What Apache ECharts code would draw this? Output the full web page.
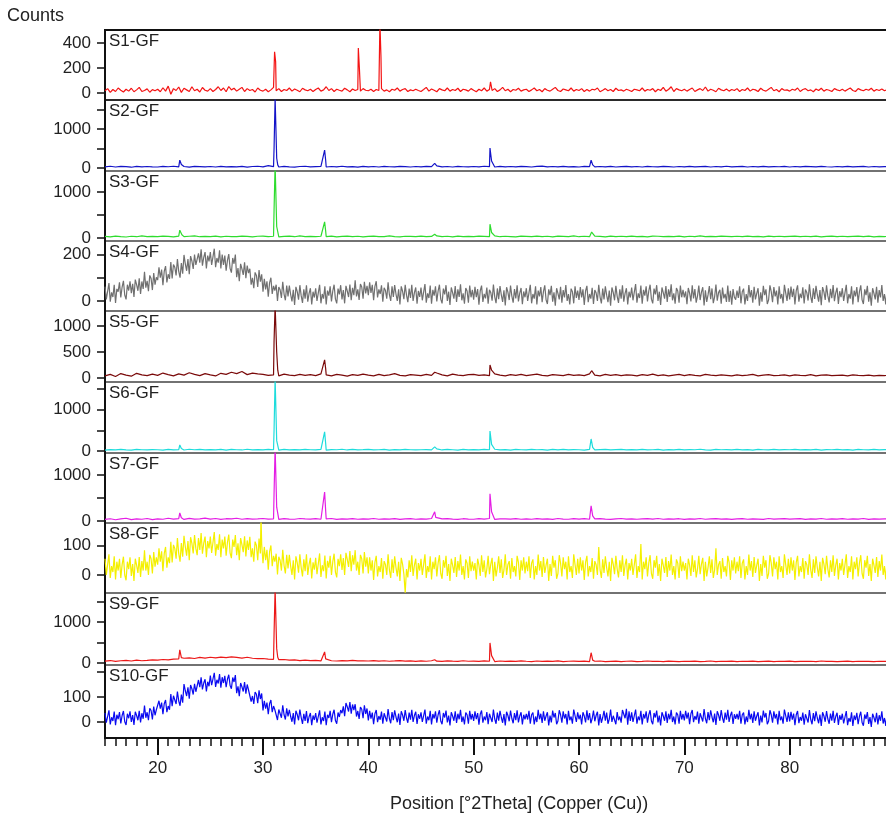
<!DOCTYPE html>
<html>
<head>
<meta charset="utf-8">
<script src="https://cdn.jsdelivr.net/npm/echarts@6/dist/echarts.min.js"></script>
<style>
  html, body { margin: 0; padding: 0; background: #fff; }
  #xrd { width: 886px; height: 821px; }
</style>
</head>
<body>
<div id="xrd"></div>
<script>
// sample labels, top to bottom
const sampleNames = ['S1-GF', 'S2-GF', 'S3-GF', 'S4-GF', 'S5-GF', 'S6-GF', 'S7-GF', 'S8-GF', 'S9-GF', 'S10-GF'];

// 2theta of first point, and scan steps (deg)
const startTheta = 15;
const denseStep = 0.125;
const fineStep = 0.25;
const coarseStep = 0.5;

// counts
const s1Counts = [
  18,35,5,28,12,40,22,8,30,15,38,10,25,45,12,20,33,6,27,18,
  30,10,42,15,55,-10,35,20,48,5,38,25,12,50,18,30,8,44,22,15,
  35,12,28,50,20,40,10,52,25,38,15,30,45,12,35,20,28,8,40,22,
  15,30,10,25,45,18,35,12,28,20,40,15,32,22,10,38,25,18,30,12,
  28,40,15,25,50,20,35,12,30,22,15,38,25,10,32,20,28,15,35,22,
  18,30,12,28,20,35,15,25,10,30,22,40,15,28,35,12,25,18,30,20,
  12,28,45,15,32,22,10,35,25,18,40,15,28,20,38,12,30,25,15,35,
  22,10,30,18,40,15,28,20,35,12,25,45,18,30,10,28,22,38,15,25,
  30,12,25,40,18,28,10,35,22,15,30,45,20,12,32,25,18,40,15,28,
  20,35,12,28,15,30,25,40,10,22,35,18,28,12,38,20,25,15,30,22,
  12,30,25,18,40,15,28,22,35,10,30,20,45,15,28,50,12,35,25,18,
  30,15,28,40,12,25,35,20,48,15,30,22,10,38,25,18,32,15,28,20,
  35,12,28,20,40,15,30,25,12,38,22,15,30,45,18,28,10,35,22,25,
  15,30,22,40,12,28,35,18,25,10,32,20,38,15,28,22,12,35,25,18,
  30,15,28,40,20,12,35,25,18,30,22,38,15,28,20,32,18,25
];
const s1Peaks = [[31.1, 330], [31.2, 250], [39.05, 360], [39.15, 200], [41.1, 560], [41.2, 290], [51.6, 90]];

const s2Counts = [
  30,45,25,40,35,20,42,28,38,30,
  25,40,32,45,28,38,22,40,35,30,
  38,25,42,30,35,28,40,22,38,45,
  30,60,35,25,40,30,22,38,45,28,
  35,42,25,38,30,45,28,35,22,40,
  30,38,25,42,32,28,40,35,25,38,
  30,42,35,55,28,38,25,40,32,30,
  38,28,45,35,25,40,30,38,28,42,
  35,25,40,50,30,38,28,42,30,35,
  25,40,35,28,38,30,42,25,35,40,
  30,38,25,42,32,28,40,35,25,38,
  30,42,28,35,40,25,38,30,45,28,
  35,40,25,38,30,42,28,35,32,40,
  25,38,30,42,35,28,40,32,25,38,
  30,42,28,35,40,25,38,30,35,28
];
const s2Peaks = [[22.1, 200], [22.25, 90], [31.05, 500], [31.15, 1800], [31.3, 250], [31.4, 80],
  [35.85, 460], [35.95, 200], [46.3, 120], [51.55, 510], [51.7, 180], [56.6, 70], [61.15, 200], [61.3, 80]];

const s3Counts = [
  35,25,40,30,22,38,28,45,30,35,
  28,40,35,25,42,30,38,45,28,35,
  30,42,25,38,32,28,40,35,25,38,
  42,30,38,25,35,40,28,45,30,35,
  28,38,30,42,25,35,40,30,38,25,
  35,40,28,32,45,30,25,38,35,30,
  40,28,35,45,30,38,25,42,30,35,
  28,40,35,30,45,28,38,32,25,40,
  35,30,42,28,38,25,40,35,30,45,
  28,38,30,42,35,25,40,30,38,28,
  40,30,35,25,42,38,28,35,30,40,
  25,38,32,45,30,35,28,40,35,30,
  38,28,42,30,35,25,40,32,38,28,
  35,42,28,38,30,40,25,35,42,30,
  38,28,35,40,30,42,25,35,30,38
];
const s3Peaks = [[22.1, 170], [22.3, 70], [31.05, 600], [31.15, 1600], [31.3, 250], [35.85, 350], [35.95, 150],
  [46.3, 80], [51.55, 300], [51.7, 120], [61.2, 130]];

const s4Counts = [
  62,7,42,77,-3,37,17,70,-8,52, 40,80,15,60,87,25,7,70,45,85, 34,74,17,92,70,44,98,30,84,52, 126,57,87,42,110,97,47,120,70,102,
  90,145,100,135,68,128,150,80,115,95, 167,97,157,145,110,180,127,100,163,117, 198,160,130,180,115,193,172,138,200,155, 147,205,165,222,152,188,210,140,195,170,
  210,155,190,225,145,185,165,218,140,200, 155,195,130,175,202,140,122,185,160,200, 102,142,85,160,138,112,166,98,152,120, 139,70,100,55,123,110,60,133,83,115,
  40,95,50,85,18,78,100,30,65,45, 70,0,60,48,13,83,30,3,66,20, 66,28,-2,48,-17,61,40,6,68,23, -8,50,10,67,-3,33,55,-15,40,15,
  55,0,35,70,-10,30,10,63,-15,45, 23,63,-2,43,70,8,-10,53,28,68, 7,47,-10,65,43,17,71,3,57,25, 89,20,50,5,73,60,10,83,33,65,
  25,80,35,70,3,63,85,15,50,30, 67,-3,57,45,10,80,27,0,63,17, 68,30,0,50,-15,63,42,8,70,25, -5,53,13,70,0,36,58,-12,43,18,
  58,3,38,73,-7,33,13,66,-12,48, 23,63,-2,43,70,8,-10,53,28,68, 0,40,-17,58,36,10,64,-4,50,18, 72,3,33,-12,56,43,-7,66,16,48,
  6,61,16,51,-16,44,66,-4,31,11, 58,-12,48,36,1,71,18,-9,54,8, 64,26,-4,46,-19,59,38,4,66,21, -7,51,11,68,-2,34,56,-14,41,16,
  55,0,35,70,-10,30,10,63,-15,45, 20,60,-5,40,67,5,-13,50,25,65, -3,37,-20,55,33,7,61,-7,47,15, 69,0,30,-15,53,40,-10,63,13,45,
  5,60,15,50,-17,43,65,-5,30,10, 57,-13,47,35,0,70,17,-10,53,7, 63,25,-5,45,-20,58,37,3,65,20, -8,50,10,67,-3,33,55,-15,40,15,
  58,3,38,73,-7,33,13,66,-12,48, 23,63,-2,43,70,8,-10,53,28,68, 0,40,-17,58,36,10,64,-4,50,18, 72,3,33,-12,56,43,-7,66,16,48,
  16,41,-14,56,34,-2,68,11,51,-7, 21,66,4,38,59,-19,46,-4,26,64, 8,54,-9,18,71,1,36,48,-12,58, 11,31,-4,66,-4,44,-16,51,16,6,
  45,13,63,-10,40,53,-15,30,0,69, 15,47,-7,61,7,33,55,-20,37,-3, 65,25,50,-13,5,67,40,-5,60,20, 45,-15,63,10,30,-10,70,35,0,55,
  7,62,17,52,-15,45,67,-3,32,12, 59,-11,49,37,2,72,19,-8,55,9, 65,27,-3,47,-18,60,39,5,67,22, -6,52,12,69,-1,35,57,-13,42,17,
  55,0,35,70,-10,30,10,63,-15,45, 20,60,-5,40,67,5,-13,50,25,65, -3,37,-20,55,33,7,61,-7,47,15, 69,0,30,-15,53
];

const s5Counts = [
  40,70,30,85,55,35,90,60,45,75,
  50,95,65,40,80,55,100,70,45,85,
  60,40,90,70,110,85,125,65,95,80,
  70,50,60,40,75,55,45,70,50,65,
  45,80,60,40,70,55,35,65,50,75,
  55,40,70,45,60,85,50,40,65,55,
  45,70,50,95,60,40,75,55,45,65,
  70,50,60,45,80,55,40,65,50,70,
  45,60,75,50,40,65,55,45,70,50,
  60,45,80,55,40,70,50,65,45,60,
  55,40,65,50,75,45,60,40,55,70,
  45,65,50,40,70,55,45,60,50,40,
  60,45,55,70,40,55,65,45,50,60,
  40,60,50,45,65,40,55,60,45,50,
  55,40,60,50,45,55,40,50,45,55
];
const s5Peaks = [[31.05, 700], [31.15, 1400], [31.3, 500], [31.4, 150], [35.85, 350], [35.95, 180],
  [46.3, 110], [51.55, 250], [51.7, 150], [61.2, 140]];

const s6Counts = [
  20,35,25,40,28,22,38,30,25,35,
  30,22,40,28,35,25,42,30,38,25,
  35,28,40,22,38,30,25,42,28,35,
  25,40,30,22,38,28,35,25,40,30,
  28,38,22,35,30,42,25,38,28,32,
  38,25,30,40,22,35,28,38,30,25,
  30,35,28,50,25,38,30,22,40,28,
  35,25,38,30,42,28,35,22,38,30,
  25,40,30,35,22,38,28,40,25,35,
  30,22,38,28,35,40,25,32,38,28,
  35,28,40,25,30,38,22,35,28,40,
  25,35,30,42,28,22,38,30,35,25,
  38,28,35,22,40,30,25,38,28,35,
  30,40,25,35,28,38,22,35,30,40,
  28,35,22,38,30,25,40,28,35,30
];
const s6Peaks = [[22.1, 145], [22.25, 60], [31.05, 500], [31.15, 1750], [31.3, 250], [35.85, 460], [35.95, 180],
  [46.3, 100], [51.55, 480], [51.7, 160], [61.15, 290], [61.3, 90]];

const s7Counts = [
  35,50,28,45,60,32,48,38,55,30,
  45,38,60,42,50,35,58,40,48,62,
  40,55,35,50,45,60,38,52,42,48,
  55,40,48,35,52,42,38,55,45,40,
  50,38,45,55,35,48,42,52,38,45,
  42,55,38,48,40,52,35,45,50,38,
  48,40,55,38,45,52,40,35,50,42,
  38,50,42,55,35,45,48,40,52,38,
  45,38,52,40,48,35,55,42,38,50,
  40,52,38,45,50,42,35,48,55,40,
  48,38,45,52,40,55,38,45,42,50,
  35,48,42,55,38,45,50,40,48,35,
  45,52,38,48,42,35,55,40,45,50,
  40,48,52,35,45,42,55,38,48,42,
  50,38,45,42,55,35,48,40,45,48
];
const s7Peaks = [[22.1, 175], [22.25, 70], [31.05, 600], [31.15, 1600], [31.3, 300], [35.85, 630], [35.95, 220],
  [46.3, 200], [46.4, 80], [51.55, 590], [51.7, 200], [61.15, 330], [61.3, 110]];

const s8Counts = [
  55,0,35,70,-10,30,10,63,-15,45, 15,55,-10,35,62,0,-18,45,20,60, -3,37,-20,55,33,7,61,-7,47,15, 84,15,45,0,68,55,5,78,28,60,
  35,90,45,80,13,73,95,25,60,40, 112,42,102,90,55,125,72,45,108,62, 133,95,65,115,50,128,107,73,135,90, 67,125,85,142,72,108,130,60,115,90,
  130,75,110,145,65,105,85,138,60,120, 90,130,65,110,137,75,57,120,95,135, 67,107,50,125,103,77,131,63,117,85, 129,60,90,45,113,100,50,123,73,105,
  40,95,50,85,18,78,100,30,65,45, 72,2,62,50,15,85,32,5,68,22, 68,30,0,50,-15,63,42,8,70,25, -5,53,13,70,0,36,58,-12,43,18,
  58,3,38,73,-7,33,13,66,-12,48, 25,65,0,45,72,10,-8,55,30,70, 17,57,0,75,53,27,81,13,67,35, 84,15,45,0,68,55,5,78,28,60,
  5,60,15,50,-17,43,65,-5,30,10, 57,-13,47,35,0,70,17,-10,53,7, 63,25,-5,45,-20,58,37,3,-60,20, -8,50,10,67,-3,33,55,-15,40,15,
  55,0,35,70,-10,30,10,63,-15,45, 20,60,-5,40,67,5,-13,50,25,65, -3,37,-20,55,33,7,61,-7,47,15, 69,0,30,-15,53,40,-10,63,13,45,
  15,40,-15,55,33,-3,67,10,50,-8, 20,65,3,37,58,-20,45,-5,25,63, 7,53,-10,17,70,0,35,47,-13,57, 10,30,-5,65,43,-17,50,15,60,5,
  45,13,63,-10,40,53,-15,30,0,69, 15,47,-7,61,7,33,55,-20,37,-3, 65,25,50,-13,5,67,40,-5,60,20, 45,-15,63,10,30,-10,70,35,0,55,
  5,60,15,50,-17,43,65,-5,30,10, 57,-13,47,35,0,95,17,-10,53,7, 63,25,-5,45,-20,58,37,3,65,20, -8,50,10,67,-3,33,55,-15,40,15,
  55,0,35,70,-10,30,10,105,-15,45, 20,60,-5,40,67,5,-13,50,25,65, -3,37,-20,55,33,7,61,-7,47,15, 69,0,30,-15,53,40,-10,63,13,45,
  15,40,-15,55,33,-3,67,10,50,-8, 20,65,3,37,58,-20,45,-5,25,63, 7,53,-10,17,90,0,35,47,-13,57, 10,30,-5,65,43,-17,50,15,60,5,
  45,13,63,-10,40,53,-15,30,0,69, 15,47,-7,61,7,33,55,-20,37,-3, 65,25,50,-13,5,67,40,-5,60,20, 45,-15,63,10,30,-10,70,35,0,55,
  5,60,15,50,-17,43,65,-5,30,10, 57,-13,47,35,0,70,17,-10,53,7, 63,25,-5,45,-20,58,37,3,65,20, -8,50,10,67,-3,33,55,-15,40,15,
  55,0,35,70,-10,30,10,63,-15,45, 20,60,-5,40,67,5,-13,50,25,65, -3,37,-20,55,33,7,61,-7,47,15, 69,0,30,-15,53
];
const s8Peaks = [[29.81, 200]];

const s9Counts = [
  45,60,40,55,65,48,70,55,62,75,
  70,85,78,95,100,115,125,110,135,120,
  140,125,145,130,150,135,120,140,115,105,
  110,95,90,80,85,70,75,60,70,58,
  65,50,62,55,48,60,52,65,50,55,
  48,58,45,55,42,50,60,45,52,40,
  50,42,55,45,38,52,45,40,55,42,
  45,38,50,42,35,48,40,45,38,50,
  42,35,48,40,45,38,50,35,42,45,
  38,45,35,42,48,35,40,45,32,42,
  45,35,40,48,38,42,35,45,40,35,
  42,38,45,35,40,48,32,42,38,45,
  35,42,38,45,32,40,45,35,42,38,
  45,35,40,38,42,35,48,38,40,35,
  40,45,35,42,38,40,35,42,38,42
];
const s9Peaks = [[22.1, 320], [22.25, 130], [31.05, 700], [31.15, 1800], [31.3, 350], [31.4, 140], [35.85, 270], [35.95, 100],
  [46.3, 80], [51.55, 490], [51.7, 180], [61.15, 250], [61.3, 70]];

const s10Counts = [
  36,-3,22,47,-10,19,4,42,-13,29, 11,40,-6,26,44,1,-12,33,15,43, 0,28,-12,41,26,7,45,-2,35,13, 66,17,39,7,55,46,10,62,27,49,
  46,85,53,78,31,73,88,39,64,49, 112,63,105,97,72,122,84,65,110,77, 152,125,104,139,93,148,133,110,153,121, 127,168,139,179,130,156,171,122,161,143,
  186,147,172,197,140,169,154,192,137,179, 156,185,139,171,189,146,133,178,160,188, 115,143,103,156,141,122,160,113,150,128, 131,82,104,72,120,111,75,127,92,114,
  46,85,53,78,31,73,88,39,64,49, 57,8,50,42,17,67,29,10,55,22, 49,22,1,36,-10,45,30,7,50,18, -8,33,4,44,-5,21,36,-13,26,8,
  36,-3,22,47,-10,19,4,42,-13,29, 16,45,-1,31,49,6,-7,38,20,48, 35,63,23,76,61,42,80,33,70,48, 71,22,44,12,60,51,15,67,32,54,
  6,45,13,38,-9,33,48,-1,24,9, 42,-7,35,27,2,52,14,-5,40,7, 47,20,-1,34,-12,43,28,5,48,16, -3,38,9,49,0,26,41,-8,31,13,
  39,0,25,50,-7,22,7,45,-10,32, 14,43,-3,29,47,4,-9,36,18,46, -2,26,-14,39,24,5,43,-4,33,11, 49,0,22,-10,38,29,-7,45,10,32,
  4,43,11,36,-11,31,46,-3,22,7, 40,-9,33,25,0,50,12,-7,38,5, 45,18,-3,32,-14,41,26,3,46,14, -5,36,7,47,-2,24,39,-10,29,11,
  32,10,45,-7,29,38,-10,22,0,49, 11,33,-4,43,5,24,39,-14,26,-2, 46,18,36,-9,4,47,29,-3,43,14, 32,-10,45,7,22,-7,50,25,0,39,
  11,29,-10,39,24,-2,47,7,36,-5, 14,46,3,26,41,-14,32,-3,18,45, 5,38,-7,12,50,0,25,33,-9,40, 7,22,-3,48,45,15,53,-11,43,4,
  39,0,25,50,-7,22,7,45,-10,32, 14,43,-3,29,47,4,-9,36,18,46, -2,26,-14,39,24,5,43,-4,33,11, 49,0,22,-10,38,29,-7,45,10,32,
  6,45,13,38,-9,33,48,-1,24,9, 42,-7,35,27,2,52,14,-5,40,7, 47,20,-1,34,-12,43,28,5,48,16, -3,38,9,49,0,26,41,-8,31,13,
  32,10,45,-7,29,38,-10,22,0,49, 11,33,-4,43,5,24,39,-14,26,-2, 46,18,36,-9,4,47,29,-3,43,14, 32,-10,45,7,22,-7,50,25,0,39,
  2,41,9,34,-13,29,44,-5,20,5, 38,-11,31,23,-2,48,10,-9,36,3, 43,16,-5,30,-16,39,24,1,44,12, -7,34,5,45,-4,22,37,-12,27,9,
  33,-6,19,44,-13,16,1,39,-16,26, 8,37,-9,23,41,-2,-15,30,12,40, -8,20,-20,33,18,-1,37,-10,27,5, 43,-6,16,-16,32
];

const panelCounts = [s1Counts, s2Counts, s3Counts, s4Counts, s5Counts, s6Counts, s7Counts, s8Counts, s9Counts, s10Counts];
const panelSteps = [fineStep, coarseStep, coarseStep, denseStep, coarseStep, coarseStep, coarseStep, denseStep, coarseStep, denseStep];
const panelPeaks = [s1Peaks, s2Peaks, s3Peaks, [], s5Peaks, s6Peaks, s7Peaks, s8Peaks, s9Peaks, []];

// y axis ranges and ticks of each panel
const yMin = [-56, -77, -65, -43, -77, -48, -43, -61, -49, -64];
const yMax = [504, 1744, 1456, 258, 1288, 1663, 1478, 176, 1707, 228];
const yTicks = [[0, 200, 400], [0, 500, 1000, 1500], [0, 500, 1000], [0, 100, 200], [0, 500, 1000],
  [0, 500, 1000, 1500], [0, 500, 1000], [0, 100], [0, 500, 1000, 1500], [0, 100, 200]];
const yLabels = [[0, 200, 400], [0, 1000], [0, 1000], [0, 200], [0, 500, 1000],
  [0, 1000], [0, 1000], [0, 100], [0, 1000], [0, 100]];
const xLabels = [20, 30, 40, 50, 60, 70, 80];
const xMin = 15, xMax = 90;

const colors = ['#f41414', '#1414c8', '#2edc2e', '#707070', '#7a0a0a', '#1edcdc', '#e41ee4', '#f4f000', '#ec1818', '#0a0af0'];

// panel boxes (px); the plot runs past the right edge of the picture
const panelTop = [30, 100, 171, 241, 311, 382, 453, 523, 593, 665];
const panelBottom = [100, 171, 241, 311, 382, 453, 523, 593, 665, 738];
const plotLeft = 105, plotWidth = 790;

const FONT = 'Arial, "Liberation Sans", sans-serif';

function buildLine(counts, step, peaks) {
  const pts = counts.map((c, i) => [+(startTheta + i * step).toFixed(3), c]);
  return pts.concat(peaks).sort((a, b) => a[0] - b[0]);
}

function init() {
  const chart = echarts.init(document.getElementById('xrd'), null, { renderer: 'canvas' });

  const grid = [], xAxis = [], yAxis = [], series = [], graphic = [];

  sampleNames.forEach((name, i) => {
    grid.push({
      left: plotLeft, width: plotWidth, top: panelTop[i], height: panelBottom[i] - panelTop[i],
      outerBoundsMode: 'none', containLabel: false,
      show: true, borderColor: i === 0 ? '#111' : '#444', borderWidth: i === 0 ? 2 : 1.2
    });
    xAxis.push({
      type: 'value', gridIndex: i, min: xMin, max: xMax, show: i === 9, position: 'bottom',
      axisLine: { show: true, onZero: false, lineStyle: { color: '#111', width: 2 } },
      axisTick: { show: true, customValues: xLabels, length: 17, lineStyle: { color: '#111', width: 2 } },
      axisLabel: { customValues: xLabels, fontSize: 17, color: '#222', fontFamily: FONT, margin: 22 },
      splitLine: { show: false }
    });
    yAxis.push({
      type: 'value', gridIndex: i, min: yMin[i], max: yMax[i],
      axisLine: { show: true, onZero: false, lineStyle: { color: '#111', width: 2 } },
      axisTick: { show: true, customValues: yTicks[i], length: 8, lineStyle: { color: '#111', width: 1.5 } },
      axisLabel: {
        customValues: yLabels[i], fontSize: 17, color: '#222', fontFamily: FONT, margin: 14,
        formatter: function (v) { return String(v); }
      },
      splitLine: { show: false }
    });
    series.push({
      type: 'line', xAxisIndex: i, yAxisIndex: i,
      data: buildLine(panelCounts[i], panelSteps[i], panelPeaks[i]),
      symbol: 'none', clip: true,
      lineStyle: { color: colors[i], width: 1.2 }
    });
    graphic.push({
      type: 'text', left: 109, top: panelTop[i] + 3,
      style: { text: name, font: '17px ' + FONT, fill: '#222' }
    });
  });

  // minor ticks, every 1 deg
  xAxis.push({
    type: 'value', gridIndex: 9, min: xMin, max: xMax, interval: 1, position: 'bottom',
    axisLine: { show: false, onZero: false },
    axisTick: { show: true, length: 8, lineStyle: { color: '#111', width: 1.5 } },
    axisLabel: { show: false },
    splitLine: { show: false }
  });

  graphic.push({
    type: 'text', left: 7, top: 7,
    style: { text: 'Counts', font: '18px ' + FONT, fill: '#222' }
  });
  graphic.push({
    type: 'text', left: 390, top: 795,
    style: { text: 'Position [°2Theta] (Copper (Cu))', font: '18px ' + FONT, fill: '#222' }
  });

  chart.setOption({
    animation: false,
    grid: grid,
    xAxis: xAxis,
    yAxis: yAxis,
    series: series,
    graphic: graphic
  });
}

document.addEventListener('DOMContentLoaded', function () {
  init();
});
</script>
</body>
</html>
